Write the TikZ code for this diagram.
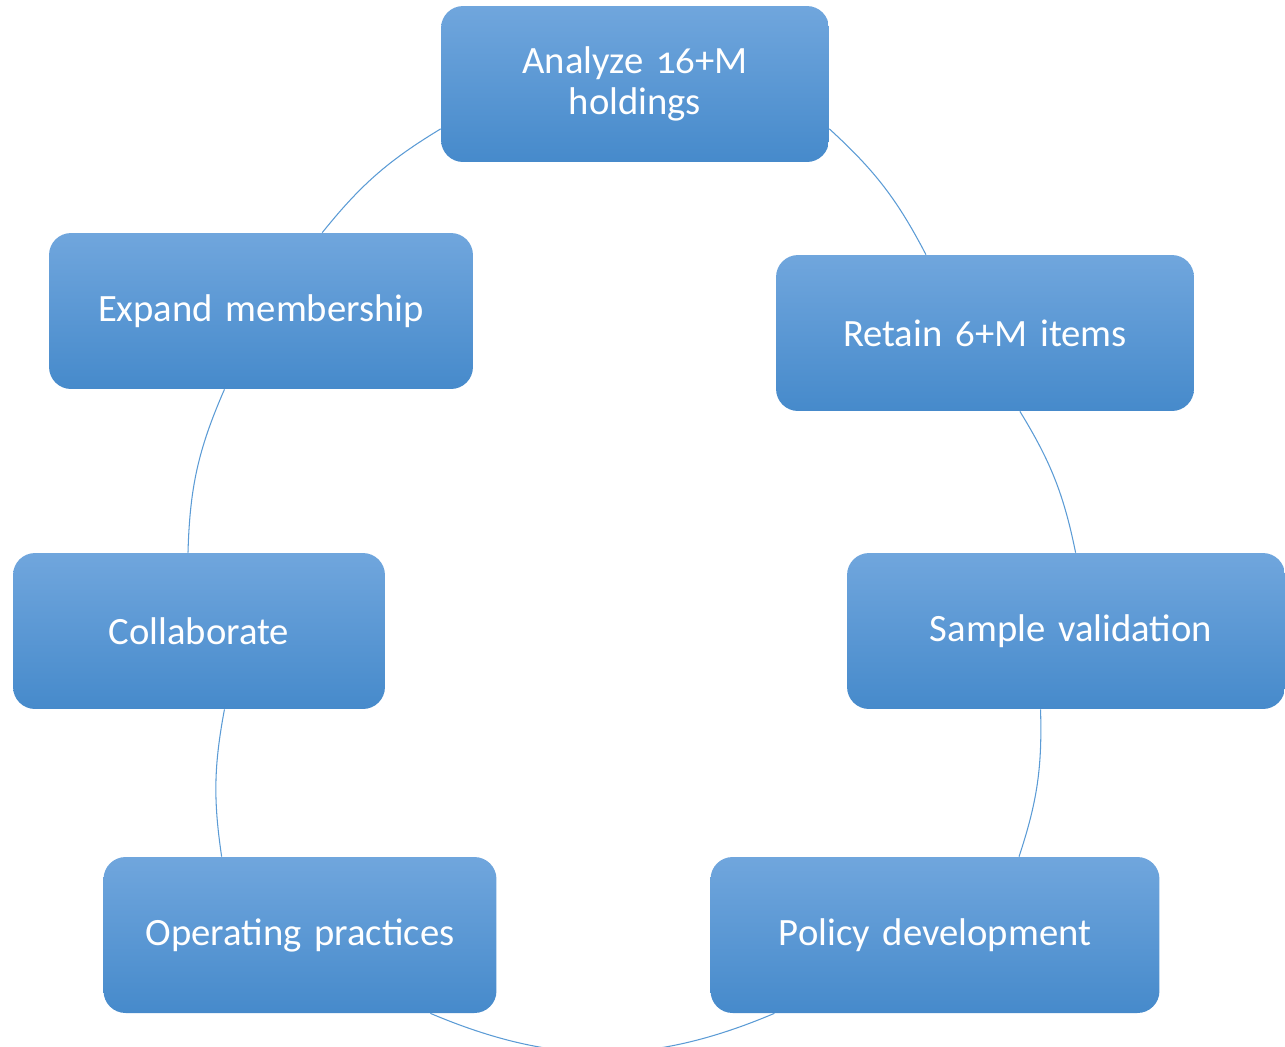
\documentclass[tikz,border=0pt]{standalone}
\usepackage{fontspec}
\setmainfont[Numbers=OldStyle]{Carlito}
\usepackage{tikz}
\usetikzlibrary{shapes,arrows}
\definecolor{boxtop}{RGB}{112,166,221}
\definecolor{boxbot}{RGB}{70,138,203}
\definecolor{arcblue}{RGB}{91,155,213}
\tikzstyle{block} = [rectangle, top color=boxtop, bottom color=boxbot, draw=none,
    text=white, align=center, rounded corners=0.44cm, inner sep=0pt,
    minimum height=3.12cm, font=\fontsize{22}{23}\selectfont]
\tikzstyle{line} = [draw=arcblue, line width=0.6pt]

\begin{document}
\begin{tikzpicture}[x=0.02cm, y=-0.02cm]
    \useasboundingbox (0,0) rectangle (1285,1046);
    % Place nodes
    \node [block, text width=7.76cm] (analyze) at (635,84) {Analyze 16+M\\ holdings};
    \node [block, text width=8.36cm] (retain) at (985,333) {Retain 6+M items};
    \node [block, text width=8.76cm] (sample) at (1066,631) {\hspace*{0.2cm}Sample validation};
    \node [block, text width=8.98cm] (policy) at (935,935) {Policy development};
    \node [block, text width=7.86cm] (operating) at (300,935) {Operating practices};
    \node [block, text width=7.44cm] (collab) at (199,631) {Collaborate};
    \node [block, text width=8.48cm] (expand) at (261,311) {Expand membership};

    % Draw arcs
    \path [line] (analyze.-13) to[bend left=10] (retain.127);
    \path [line] (retain.-66) to[bend left=10] (sample.83);
    \path [line] (sample.-108) to[bend left=10] (policy.43);
    \path [line] (policy.206) to[bend left=23] (operating.-31);
    \path [line] (operating.135) to[bend left=9.5] (collab.-72);
    \path [line] (collab.98) to[bend left=11] (expand.245);
    \path [line] (expand.52) to[bend left=10] (analyze.193);
\end{tikzpicture}
\end{document}
